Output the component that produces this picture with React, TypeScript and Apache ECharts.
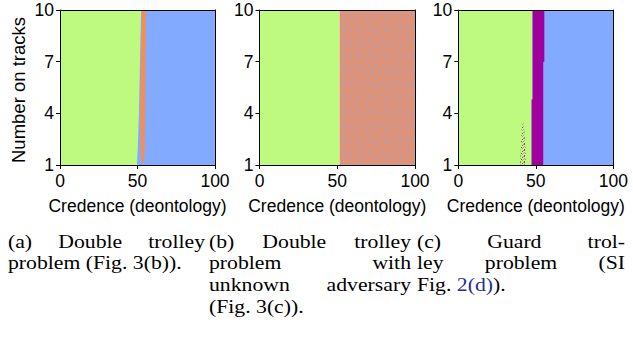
import { useEffect, useRef } from "react";
import * as echarts from "echarts";

// ---- axes ----
const X_TICKS = [0, 50, 100];
const Y_TICKS = [1, 4, 7, 10];
const X_NAME = "Credence (deontology)";
const Y_NAME = "Number on tracks";

// ---- (a) double trolley: decision boundaries per number on tracks ----
const A_ROWS = [1, 1.3, 2, 4, 7, 10];
const A_GREEN_EDGE = [49.6, 49.8, 50.2, 50.9, 51.6, 52.3];
const A_ORANGE_LEFT = [53.3, 52.5, 52.2, 51.9, 52.3, 52.8];
const A_ORANGE_RIGHT = [53.3, 54.2, 54.6, 54.8, 55.0, 55.3];

// ---- (b) double trolley with unknown adversary ----
const B_ROWS = [1, 10];
const B_GREEN_EDGE = [51.4, 51.4];

// ---- (c) guard trolley ----
const C_ROWS = [1, 4.8, 4.8, 7, 7, 10];
const C_PURPLE_LEFT = [47.3, 47.3, 47.9, 47.9, 47.9, 47.9];
const C_PURPLE_RIGHT = [54.8, 54.8, 54.8, 54.8, 55.5, 55.5];
const C_SPECKLE_ROWS = [1, 2, 3.5];
const C_SPECKLE_LEFT = [39.9, 40.4, 41.0];
const C_SPECKLE_RIGHT = [43.6, 43.3, 42.2];

// ---- captions ({...} marks a cross-reference) ----
const CAPTION_A = ["(a) Double trolley", "problem (Fig. 3(b))."];
const CAPTION_B = ["(b) Double trolley", "problem with", "unknown adversary", "(Fig. 3(c))."];
const CAPTION_C = ["(c) Guard trol-", "ley problem (SI", "Fig. {2(d)})."];

const GREEN = "#bffa80";
const BLUE = "#82aaff";
const ORANGE = "#ff8c46";
const PURPLE = "#a000a0";
const LINK = "#1f2f95";

const SANS = '"Liberation Sans", Arial, sans-serif';
const SERIF = '"Liberation Serif", "Times New Roman", serif';
const TICK_SIZE = 17.5;
const CAPTION_SIZE = 19.4;
const CAPTION_STRETCH = 1.12; // caption glyphs are set slightly wide
const CAPTION_LINE_GAP = 21.8;

const GRIDS = [
  { left: 60, top: 10, width: 155, height: 155 },
  { left: 259.5, top: 10, width: 155.5, height: 155 },
  { left: 458.3, top: 10, width: 155, height: 155 },
];

const CAPTION_COLUMNS = [
  { x0: 8, x1: 205, lines: CAPTION_A },
  { x0: 209, x1: 411, lines: CAPTION_B },
  { x0: 417, x1: 625, lines: CAPTION_C },
];
const CAPTION_FIRST_MIDDLE = 241;

// Speckle textures: '1' first colour, '2' second colour, '.' base
const ADVERSARY_MASK = [
  "1..1...",
  ".1..11.",
  "..1...1",
  "11..1..",
  "...1.1.",
  ".11...1",
  "1...1..",
];
const GUARD_MASK = [
  "1..2",
  "..1.",
  "2...",
  ".1.2",
  "..2.",
  "1...",
];

function makePattern(mask: string[], base: string | null, colors: string[]) {
  const h = mask.length;
  const w = mask[0].length;
  const c = document.createElement("canvas");
  c.width = w;
  c.height = h;
  const g = c.getContext("2d")!;
  if (base) {
    g.fillStyle = base;
    g.fillRect(0, 0, w, h);
  }
  mask.forEach((row, y) =>
    [...row].forEach((ch, x) => {
      if (ch === "1" || ch === "2") {
        g.fillStyle = colors[Number(ch) - 1];
        g.fillRect(x, y, 1, 1);
      }
    })
  );
  return { image: c, repeat: "repeat", imageWidth: w, imageHeight: h } as any;
}

type Region = { rows: number[]; left: number[]; right: number[]; fill: any };

const edge = (rows: number[], v: number) => rows.map(() => v);

function regionsFor(panel: number): Region[] {
  if (panel === 0) {
    return [
      { rows: [1, 10], left: [0, 0], right: [100, 100], fill: BLUE },
      { rows: A_ROWS, left: edge(A_ROWS, 0), right: A_GREEN_EDGE, fill: GREEN },
      { rows: A_ROWS, left: A_ORANGE_LEFT, right: A_ORANGE_RIGHT, fill: ORANGE },
    ];
  }
  if (panel === 1) {
    return [
      {
        rows: B_ROWS,
        left: B_GREEN_EDGE,
        right: edge(B_ROWS, 100),
        fill: makePattern(ADVERSARY_MASK, ORANGE, ["#93a4ec"]),
      },
      { rows: B_ROWS, left: edge(B_ROWS, 0), right: B_GREEN_EDGE, fill: GREEN },
    ];
  }
  return [
    { rows: [1, 10], left: [0, 0], right: [100, 100], fill: BLUE },
    { rows: C_ROWS, left: edge(C_ROWS, 0), right: C_PURPLE_LEFT, fill: GREEN },
    { rows: C_ROWS, left: C_PURPLE_LEFT, right: C_PURPLE_RIGHT, fill: PURPLE },
    {
      rows: C_SPECKLE_ROWS,
      left: C_SPECKLE_LEFT,
      right: C_SPECKLE_RIGHT,
      fill: makePattern(GUARD_MASK, null, ["#a8309e", "#a8a488"]),
    },
  ];
}

// Rich-text form of a caption fragment: {...} becomes a link-coloured run
const toRich = (s: string) => s.replace(/\{([^}]*)\}/g, "{l|$1}");
const plainOf = (s: string) => s.replace(/[{}]/g, "");

function captionText(text: string, x: number, y: number, align: string) {
  return {
    type: "text",
    x,
    y,
    scaleX: CAPTION_STRETCH,
    style: {
      text: toRich(text),
      font: `${CAPTION_SIZE}px ${SERIF}`,
      lineHeight: 19,
      fill: "#000",
      align,
      verticalAlign: "middle",
      rich: { l: { fill: LINK, font: `${CAPTION_SIZE}px ${SERIF}`, lineHeight: 19 } },
    },
  };
}

function buildCaptions() {
  const ctx = document.createElement("canvas").getContext("2d")!;
  ctx.font = `${CAPTION_SIZE}px "Liberation Serif"`;
  const els: any[] = [];
  CAPTION_COLUMNS.forEach((col) => {
    col.lines.forEach((line, li) => {
      const y = CAPTION_FIRST_MIDDLE + li * CAPTION_LINE_GAP;
      const words = line.split(" ");
      const justify = li < col.lines.length - 1 && words.length > 1;
      if (!justify) {
        els.push(captionText(line, col.x0, y, "left"));
        return;
      }
      const widths = words.map((w) => ctx.measureText(plainOf(w)).width * CAPTION_STRETCH);
      const total = widths.reduce((s, v) => s + v, 0);
      const gap = (col.x1 - col.x0 - total) / (words.length - 1);
      let x = col.x0;
      words.forEach((word, wi) => {
        if (wi === words.length - 1) {
          els.push(captionText(word, col.x1, y, "right"));
        } else {
          els.push(captionText(word, x, y, "left"));
        }
        x += widths[wi] + gap;
      });
    });
  });
  return els;
}

export default function App() {
  const ref = useRef<HTMLDivElement>(null);

  useEffect(() => {
    if (!ref.current) return;
    const chart = echarts.init(ref.current, null, { renderer: "svg" });

    const axisText = { fontFamily: SANS, fontSize: TICK_SIZE, color: "#000" };
    const frameLine = { show: true, onZero: false, lineStyle: { color: "#000", width: 1 } };

    const xAxis: any[] = [];
    const yAxis: any[] = [];
    const series: any[] = [];

    GRIDS.forEach((_, i) => {
      xAxis.push(
        {
          gridIndex: i,
          type: "value",
          min: 0,
          max: 100,
          interval: 50,
          position: "bottom",
          z: 5,
          axisLine: frameLine,
          axisTick: { show: true, inside: false, length: 4, lineStyle: { color: "#000" } },
          axisLabel: { ...axisText, margin: 7, customValues: X_TICKS },
          splitLine: { show: false },
          name: X_NAME,
          nameLocation: "middle",
          nameGap: 32,
          nameTextStyle: axisText,
        },
        {
          gridIndex: i,
          type: "value",
          min: 0,
          max: 100,
          position: "top",
          z: 5,
          axisLine: frameLine,
          axisTick: { show: false },
          axisLabel: { show: false },
          splitLine: { show: false },
        }
      );
      yAxis.push(
        {
          gridIndex: i,
          type: "value",
          min: 1,
          max: 10,
          position: "left",
          z: 5,
          axisLine: frameLine,
          axisTick: { show: true, inside: false, length: 4, customValues: Y_TICKS, lineStyle: { color: "#000" } },
          axisLabel: { ...axisText, margin: 6, customValues: Y_TICKS },
          splitLine: { show: false },
        },
        {
          gridIndex: i,
          type: "value",
          min: 1,
          max: 10,
          position: "right",
          z: 5,
          axisLine: frameLine,
          axisTick: { show: false },
          axisLabel: { show: false },
          splitLine: { show: false },
        }
      );
      const regions = regionsFor(i);
      series.push({
        type: "custom",
        xAxisIndex: 2 * i,
        yAxisIndex: 2 * i,
        clip: true,
        data: regions.map((_, k) => [k]),
        encode: { x: -1, y: -1 },
        renderItem: (params: any, api: any) => {
          const r = regions[params.dataIndex];
          const pts: number[][] = [];
          r.rows.forEach((y, k) => pts.push(api.coord([r.left[k], y])));
          for (let k = r.rows.length - 1; k >= 0; k--) pts.push(api.coord([r.right[k], r.rows[k]]));
          return {
            type: "polygon",
            shape: { points: pts },
            style: { fill: r.fill, stroke: null, lineWidth: 0 },
          };
        },
      });
    });

    chart.setOption({
      animation: false,
      backgroundColor: "#fff",
      grid: GRIDS.map((g) => ({ ...g, containLabel: false })),
      xAxis,
      yAxis,
      series,
      graphic: [
        {
          type: "text",
          x: 18.5,
          y: 90,
          rotation: Math.PI / 2,
          style: {
            text: Y_NAME,
            font: `18.5px ${SANS}`,
            fill: "#000",
            align: "center",
            verticalAlign: "middle",
          },
        },
        ...buildCaptions(),
      ],
    });

    return () => chart.dispose();
  }, []);

  return (
    <div
      ref={ref}
      style={{ position: "fixed", left: 0, top: 0, width: 633, height: 338, background: "#fff" }}
    />
  );
}
